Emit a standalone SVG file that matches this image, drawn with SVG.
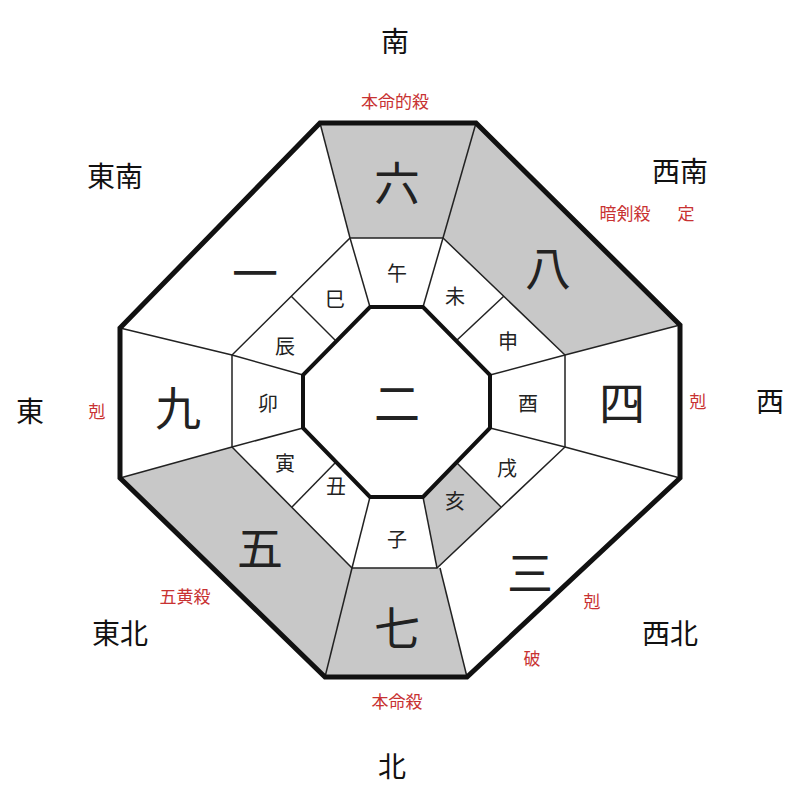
<svg xmlns="http://www.w3.org/2000/svg" width="800" height="800" viewBox="0 0 800 800">
<style>
.g{fill:#c8c8c8}
.w{fill:#fff}
.t{font-family:"Noto Sans CJK JP","Noto Sans CJK SC",sans-serif;text-anchor:middle;dominant-baseline:central}
.big{font-size:46px;fill:#222}
.br{font-size:20px;fill:#222}
.dir{font-size:28px;fill:#111}
.red{font-size:17px;fill:#c83232}
.ln{stroke:#222;stroke-width:1.5;fill:none}
</style>
<rect width="800" height="800" fill="#fff"/>
<g id="sectors">
<polygon class="g" points="320,123 476,123 443,238 350,238"/>
<polygon class="g" points="476,123 680,325 565,355 443,238"/>
<polygon class="g" points="325,677 467,677 440,568 352,568"/>
<polygon class="g" points="120,478 325,677 352,568 232,447"/>
<polygon class="g" points="437,568 501,507 456,462 423,497"/>
</g>
<g id="connectors">
<polygon class="ln" points="350,238 443,238 565,355 565,447 437,568 352,568 232,447 232,355"/>
<line class="ln" x1="320" y1="123" x2="350" y2="238"/>
<line class="ln" x1="476" y1="123" x2="443" y2="238"/>
<line class="ln" x1="680" y1="325" x2="565" y2="355"/>
<line class="ln" x1="680" y1="478" x2="565" y2="447"/>
<line class="ln" x1="467" y1="677" x2="440" y2="568"/>
<line class="ln" x1="325" y1="677" x2="352" y2="568"/>
<line class="ln" x1="120" y1="478" x2="232" y2="447"/>
<line class="ln" x1="120" y1="328" x2="232" y2="355"/>
<line class="ln" x1="350" y1="238" x2="370" y2="307"/>
<line class="ln" x1="443" y1="238" x2="423" y2="307"/>
<line class="ln" x1="565" y1="355" x2="490" y2="375"/>
<line class="ln" x1="565" y1="447" x2="490" y2="428"/>
<line class="ln" x1="437" y1="568" x2="423" y2="497"/>
<line class="ln" x1="352" y1="568" x2="370" y2="497"/>
<line class="ln" x1="232" y1="447" x2="303" y2="428"/>
<line class="ln" x1="232" y1="355" x2="303" y2="375"/>
<line class="ln" x1="504" y1="296" x2="456" y2="341"/>
<line class="ln" x1="501" y1="507" x2="456" y2="462"/>
<line class="ln" x1="292" y1="507" x2="336" y2="462"/>
<line class="ln" x1="291" y1="296" x2="336" y2="341"/>
<polygon points="370,307 423,307 490,375 490,428 423,497 370,497 303,428 303,375" fill="#fff" stroke="#111" stroke-width="4"/>
<polygon points="320,123 476,123 680,325 680,478 467,677 325,677 120,478 120,328" fill="none" stroke="#111" stroke-width="5" stroke-linejoin="miter"/>
</g>
<g id="numbers" class="t big">
<text x="397" y="180">六</text><text x="548" y="265">八</text><text x="622" y="400">四</text>
<text x="530" y="570">三</text><text x="397" y="625">七</text><text x="260" y="545">五</text>
<text x="178" y="405">九</text><text x="255" y="270">一</text><text x="397" y="400">二</text>
</g>
<g id="branches" class="t br">
<text x="397" y="272">午</text><text x="455" y="295">未</text><text x="508" y="340">申</text>
<text x="528" y="402">酉</text><text x="507" y="467">戌</text><text x="455" y="500">亥</text>
<text x="397" y="538">子</text><text x="336" y="485">丑</text><text x="285" y="462">寅</text>
<text x="268" y="402">卯</text><text x="285" y="345">辰</text><text x="335" y="298">巳</text>
</g>
<g id="directions" class="t dir">
<text x="395" y="40">南</text><text x="392" y="765">北</text><text x="30" y="410">東</text><text x="770" y="400">西</text>
<text x="115" y="175">東南</text><text x="680" y="170">西南</text><text x="120" y="632">東北</text><text x="670" y="632">西北</text>
</g>
<g id="labels" class="t red">
<text x="395" y="100">本命的殺</text><text x="625" y="212">暗剣殺</text><text x="686" y="212">定</text>
<text x="97" y="410">剋</text><text x="698" y="400">剋</text><text x="185" y="595">五黄殺</text>
<text x="592" y="600">剋</text><text x="532" y="657">破</text><text x="397" y="700">本命殺</text>
</g>
</svg>
